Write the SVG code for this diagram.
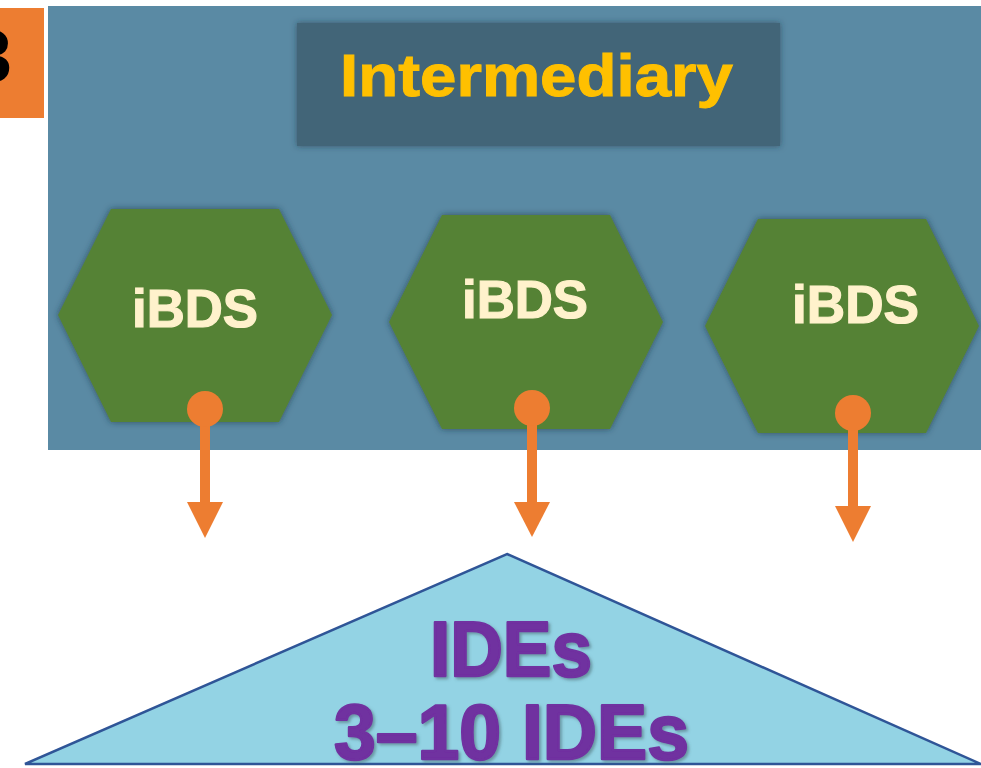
<svg xmlns="http://www.w3.org/2000/svg" width="981" height="768" viewBox="0 0 981 768">
<defs>
<style>
.hex{fill:#548235;filter:url(#sh)}
.hexlbl{font-family:"Liberation Sans",Arial,sans-serif;font-weight:bold;font-size:53px;fill:#FFF2CC;stroke:#FFF2CC;stroke-width:1.2;text-anchor:middle}
.arrow{stroke:#ED7D31;stroke-width:10;fill:none}
.dot{fill:#ED7D31}
.head{fill:#ED7D31}
.tri{font-family:"Liberation Sans",Arial,sans-serif;font-weight:bold;font-size:78px;fill:#7030A0;stroke:#7030A0;stroke-width:2.5;stroke-linejoin:round;text-anchor:middle;filter:url(#tsh)}
</style>
<filter id="sh" x="-20%" y="-20%" width="140%" height="140%">
<feDropShadow dx="0" dy="0" stdDeviation="3" flood-color="#1f3442" flood-opacity="0.7"/>
</filter>
<filter id="bsh" x="-10%" y="-20%" width="120%" height="140%">
<feDropShadow dx="0" dy="0" stdDeviation="3" flood-color="#1f3442" flood-opacity="0.6"/>
</filter>
<filter id="tsh" x="-10%" y="-20%" width="120%" height="140%">
<feDropShadow dx="2" dy="2" stdDeviation="1.5" flood-color="#3a5a60" flood-opacity="0.5"/>
</filter>
</defs>
<rect width="981" height="768" fill="#FFFFFF"/>
<g id="badge">
<rect x="0" y="8" width="44" height="110" fill="#ED7D31"/>
<text x="12" y="82" font-family="Liberation Sans,Arial,sans-serif" font-weight="bold" font-size="75" fill="#000000" text-anchor="end">3</text>
</g>
<g id="panel">
<rect x="48" y="6" width="933" height="444" fill="#5A8AA4"/>
</g>
<g id="title">
<rect x="297" y="23" width="483" height="123" fill="#426578" filter="url(#bsh)"/>
<text x="536.5" y="96" font-family="Liberation Sans,Arial,sans-serif" font-weight="bold" font-size="60" fill="#FFC000" stroke="#FFC000" stroke-width="1" text-anchor="middle" textLength="393" lengthAdjust="spacingAndGlyphs">Intermediary</text>
</g>
<g id="hex1">
<polygon class="hex" points="111,209 279,209 332,315 279,422 111,422 58,315"/>
<text class="hexlbl" x="195" y="327" textLength="126" lengthAdjust="spacingAndGlyphs">iBDS</text>
</g>
<g id="hex2">
<polygon class="hex" points="442,215 610,215 663,322 610,429 442,429 389,322"/>
<text class="hexlbl" x="525" y="318" textLength="126" lengthAdjust="spacingAndGlyphs">iBDS</text>
</g>
<g id="hex3">
<polygon class="hex" points="758,219 926,219 979,326 926,433 758,433 705,326"/>
<text class="hexlbl" x="855.5" y="323" textLength="127" lengthAdjust="spacingAndGlyphs">iBDS</text>
</g>
<g id="ides">
<polygon points="507,554 981,764 25,764" fill="#93D3E4" stroke="#2F5597" stroke-width="2.5" stroke-linejoin="miter"/>
<text class="tri" x="511" y="676" textLength="162" lengthAdjust="spacingAndGlyphs">IDEs</text>
<text class="tri" x="511.5" y="759" textLength="355" lengthAdjust="spacingAndGlyphs">3–10 IDEs</text>
</g>
<g id="connectors">
<line class="arrow" x1="205" y1="409" x2="205" y2="504"/>
<circle class="dot" cx="205" cy="409" r="18"/>
<polygon class="head" points="187,502 223,502 205,538"/>
<line class="arrow" x1="532" y1="408" x2="532" y2="504"/>
<circle class="dot" cx="532" cy="408" r="18"/>
<polygon class="head" points="514,502 550,502 532,537"/>
<line class="arrow" x1="853" y1="413" x2="853" y2="508"/>
<circle class="dot" cx="853" cy="413" r="18"/>
<polygon class="head" points="835,506 871,506 853,542"/>
</g>
</svg>
